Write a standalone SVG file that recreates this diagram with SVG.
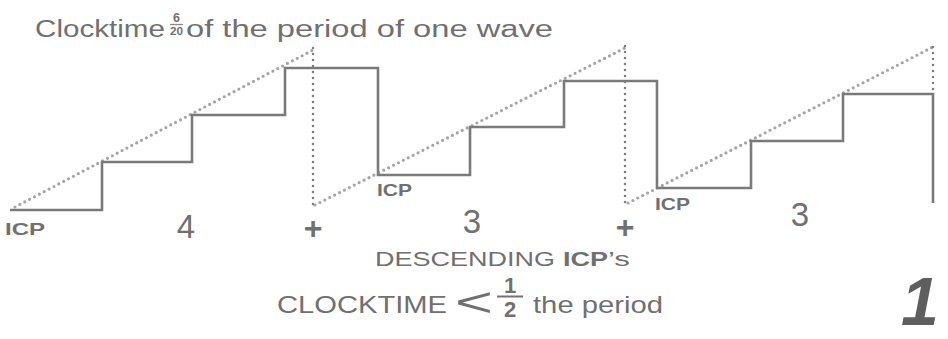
<svg xmlns="http://www.w3.org/2000/svg" width="948" height="339" viewBox="0 0 948 339">
<style>
.t{font-family:"Liberation Sans",Arial,sans-serif;fill:#707070}
.b{font-weight:bold}
.wave{fill:none;stroke:#7a7a7a;stroke-width:2.6;stroke-linejoin:miter}
.diag{fill:none;stroke:#a4a4a4;stroke-width:3.2;stroke-linecap:round;stroke-dasharray:0 5.5}
.vert{fill:none;stroke:#7c7c7c;stroke-width:2.5;stroke-linecap:round;stroke-dasharray:0 6}
</style>
<rect width="948" height="339" fill="#ffffff"/>
<g id="title">
<text class="t" x="35" y="37" font-size="23" textLength="130" lengthAdjust="spacingAndGlyphs">Clocktime</text>
<text class="t b" x="176.5" y="22" font-size="12.5" text-anchor="middle">6</text>
<line x1="170" y1="24.5" x2="183" y2="24.5" stroke="#8a8a8a" stroke-width="1.3"/>
<text class="t b" x="176.5" y="35" font-size="11.5" text-anchor="middle" textLength="13" lengthAdjust="spacingAndGlyphs">20</text>
<text class="t" x="186" y="37" font-size="23" textLength="367" lengthAdjust="spacingAndGlyphs">of the period of one wave</text>
</g>
<g id="connectors">
<path class="diag" d="M15,207 L313,50"/>
<path class="diag" d="M315,205 L625,48"/>
<path class="diag" d="M628,203 L933,47"/>
<path class="vert" d="M313,48 V206"/>
<path class="vert" d="M625,46 V207"/>
<path class="vert" d="M933,47 V94"/>
</g>
<g id="wave">
<path class="wave" d="M10,210 H102 V162 H192 V115 H285 V68 H378 V175 H470 V127 H564 V81 H657 V188 H751 V141 H843 V94 H933 V203"/>
</g>
<g id="labels">
<text class="t b" x="5" y="235" font-size="17" textLength="40" lengthAdjust="spacingAndGlyphs">ICP</text>
<text class="t b" x="377" y="196" font-size="17" textLength="35" lengthAdjust="spacingAndGlyphs">ICP</text>
<text class="t b" x="655" y="210" font-size="17" textLength="35" lengthAdjust="spacingAndGlyphs">ICP</text>
<text class="t" x="186" y="238" font-size="33" text-anchor="middle">4</text>
<text class="t" x="472" y="233" font-size="33" text-anchor="middle">3</text>
<text class="t" x="800" y="226" font-size="33" text-anchor="middle">3</text>
<text class="t b" x="313" y="239" font-size="32" text-anchor="middle">+</text>
<text class="t b" x="625" y="238" font-size="32" text-anchor="middle">+</text>
</g>
<g id="caption">
<text class="t" x="375" y="266" font-size="21" textLength="180" lengthAdjust="spacingAndGlyphs">DESCENDING</text>
<text class="t b" x="563" y="266" font-size="21" textLength="45" lengthAdjust="spacingAndGlyphs">ICP</text>
<text class="t" x="608" y="266" font-size="21" textLength="22" lengthAdjust="spacingAndGlyphs">’s</text>
<text class="t" x="277" y="313" font-size="24" textLength="170" lengthAdjust="spacingAndGlyphs">CLOCKTIME</text>
<text class="t" x="455" y="316" font-size="40" textLength="38" lengthAdjust="spacingAndGlyphs">&lt;</text>
<text class="t b" x="510" y="293" font-size="22" text-anchor="middle">1</text>
<line x1="497" y1="296.5" x2="523" y2="296.5" stroke="#727272" stroke-width="2"/>
<text class="t b" x="510" y="317" font-size="22" text-anchor="middle">2</text>
<text class="t" x="533" y="313" font-size="24" textLength="130" lengthAdjust="spacingAndGlyphs">the period</text>
</g>
<g id="figure-number">
<text class="t b" x="901" y="325" font-size="68" font-style="italic" style="fill:#5e5e5e">1</text>
</g>
</svg>
